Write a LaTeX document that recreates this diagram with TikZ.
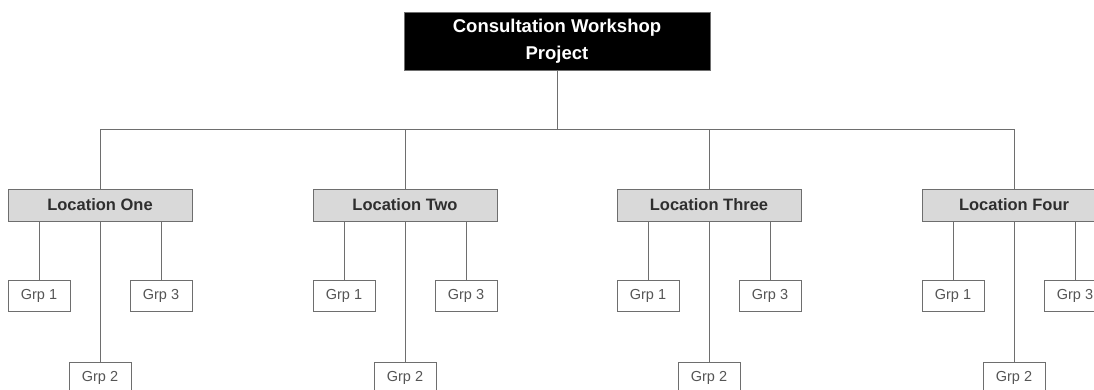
\documentclass[tikz,border=0pt]{standalone}
\usepackage{fontspec}
\setmainfont{Liberation Sans}
\definecolor{linegray}{HTML}{6E6E6E}
\definecolor{locfill}{HTML}{D9D9D9}
\definecolor{loctext}{HTML}{2E2E2E}
\definecolor{grptext}{HTML}{555555}
\begin{document}
\begin{tikzpicture}[x=1pt, y=-1pt, line width=1pt,
  project/.style={draw=linegray, fill=black, text=white, minimum width=306pt, minimum height=58pt, align=center, font=\fontsize{18.5}{27}\selectfont\bfseries, inner sep=0pt},
  location/.style={draw=linegray, fill=locfill, text=loctext, minimum width=184pt, minimum height=32pt, font=\fontsize{16.5}{19}\selectfont\bfseries, inner sep=0pt},
  grp/.style={draw=linegray, fill=white, text=grptext, minimum width=62pt, minimum height=31pt, font=\fontsize{14.5}{17}\selectfont, inner sep=0pt}]
\clip (0,0) rectangle (1094,389);
\node[project] (Project) at (557,41) {Consultation Workshop\\Project};

\node[location] (LocOne)   at (100,205)  {Location One};
\node[location] (LocTwo)   at (405,205)  {Location Two};
\node[location] (LocThree) at (709,205)  {Location Three};
\node[location] (LocFour)  at (1014,205) {Location Four};

\node[grp] (OneA)   at (39,295.5)   {Grp 1};
\node[grp] (OneB)   at (100,377.5)  {Grp 2};
\node[grp] (OneC)   at (161,295.5)  {Grp 3};
\node[grp] (TwoA)   at (344,295.5)  {Grp 1};
\node[grp] (TwoB)   at (405,377.5)  {Grp 2};
\node[grp] (TwoC)   at (466,295.5)  {Grp 3};
\node[grp] (ThreeA) at (648,295.5)  {Grp 1};
\node[grp] (ThreeB) at (709,377.5)  {Grp 2};
\node[grp] (ThreeC) at (770,295.5)  {Grp 3};
\node[grp] (FourA)  at (953,295.5)  {Grp 1};
\node[grp] (FourB)  at (1014,377.5) {Grp 2};
\node[grp] (FourC)  at (1075,295.5) {Grp 3};

\draw[linegray] (Project.south) -- ++(0,59) -| (LocOne.north);
\draw[linegray] (Project.south) -- ++(0,59) -| (LocTwo.north);
\draw[linegray] (Project.south) -- ++(0,59) -| (LocThree.north);
\draw[linegray] (Project.south) -- ++(0,59) -| (LocFour.north);

\draw[linegray] (OneA.north |- LocOne.south)     -- (OneA.north);
\draw[linegray] (LocOne.south)                   -- (OneB.north);
\draw[linegray] (OneC.north |- LocOne.south)     -- (OneC.north);
\draw[linegray] (TwoA.north |- LocTwo.south)     -- (TwoA.north);
\draw[linegray] (LocTwo.south)                   -- (TwoB.north);
\draw[linegray] (TwoC.north |- LocTwo.south)     -- (TwoC.north);
\draw[linegray] (ThreeA.north |- LocThree.south) -- (ThreeA.north);
\draw[linegray] (LocThree.south)                 -- (ThreeB.north);
\draw[linegray] (ThreeC.north |- LocThree.south) -- (ThreeC.north);
\draw[linegray] (FourA.north |- LocFour.south)   -- (FourA.north);
\draw[linegray] (LocFour.south)                  -- (FourB.north);
\draw[linegray] (FourC.north |- LocFour.south)   -- (FourC.north);
\end{tikzpicture}
\end{document}
